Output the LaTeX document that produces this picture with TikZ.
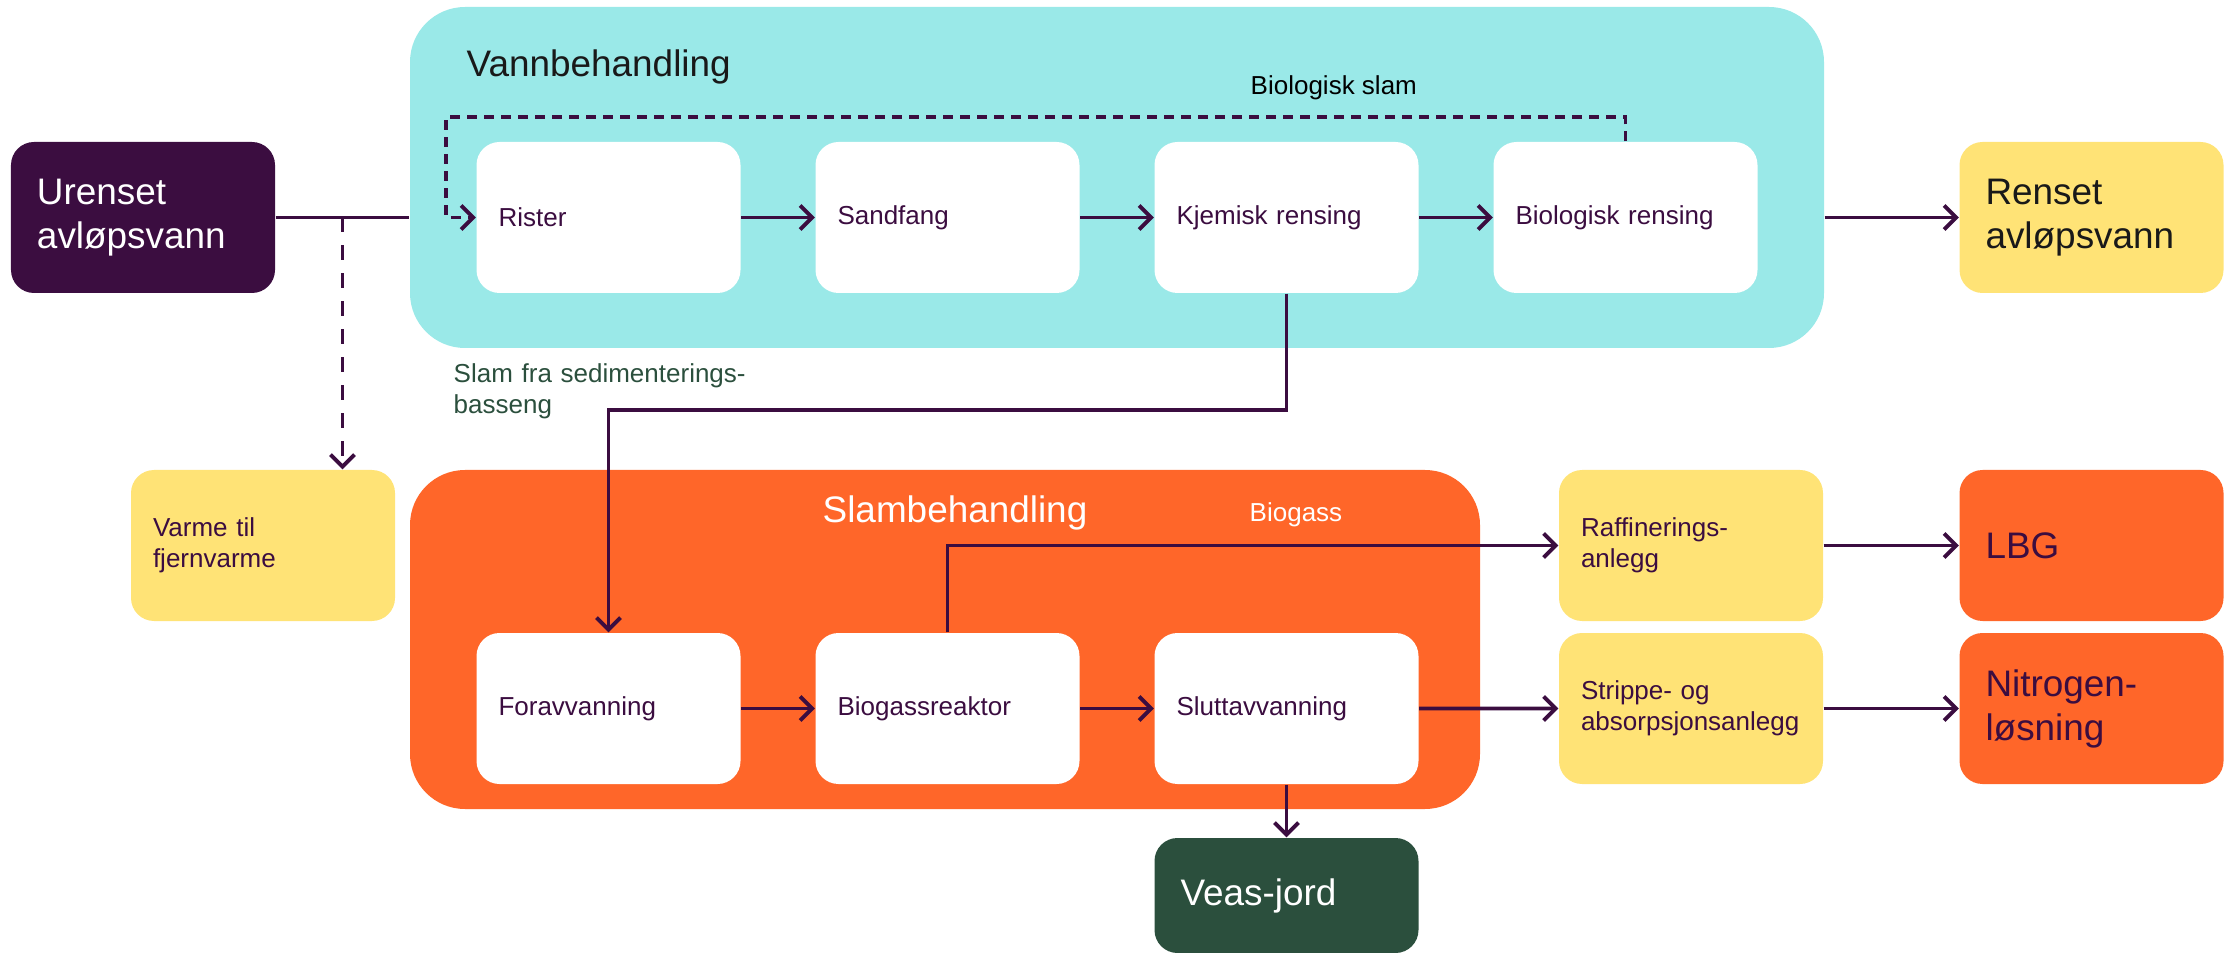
\documentclass[tikz,border=0pt]{standalone}
\usepackage{fontspec}
\setmainfont{Liberation Sans}
\usetikzlibrary{arrows.meta, positioning, calc}
\definecolor{veaspurple}{HTML}{3B0D40}
\definecolor{veascyan}{HTML}{9AE9E8}
\definecolor{veasorange}{HTML}{FF6629}
\definecolor{veasyellow}{HTML}{FFE376}
\definecolor{veasgreen}{HTML}{2B4F3D}
\newcommand{\smalltxt}{\fontsize{7.4pt}{8.8pt}\selectfont}
\newcommand{\largetxt}{\fontsize{10.5pt}{12.5pt}\selectfont}
\hyphenpenalty=10000
\tikzstyle{zone} = [rectangle, rounded corners=0.55cm, inner sep=0pt]
\tikzstyle{stage} = [rectangle, rounded corners=0.23cm, minimum width=2.64cm, minimum height=1.51cm, text width=2.2cm, inner xsep=0.22cm, align=left, fill=white, text=veaspurple, font=\smalltxt]
\tikzstyle{sidebox} = [stage, fill=veasyellow]
\tikzstyle{terminal} = [stage, text width=2.12cm, inner xsep=0.26cm, font=\largetxt]
\tikzstyle{tag} = [inner sep=0pt, anchor=base west, font=\smalltxt]
\tikzstyle{link} = [line width=1.1pt, veaspurple]
\tikzstyle{arrow} = [link, ->, >={Straight Barb[length=0.12cm, width=0.24cm]}]
\tikzstyle{dasharrow} = [arrow, dash pattern=on 0.1cm off 0.07cm]
\tikzstyle{longdash} = [arrow, dash pattern=on 0.15cm off 0.13cm]

\begin{document}
\begin{tikzpicture}[node distance=3.39cm]
    \useasboundingbox (0,0) rectangle (22.34,-9.53);
    % vannbehandling
    \node (vann) [zone, fill=veascyan, minimum width=14.14cm, minimum height=3.41cm] at (11.17,-1.775) {};
    \node (vanntitle) [tag, font=\largetxt, text=black!90] at (4.66,-0.77) {Vannbehandling};
    \node (rister) [stage] at (6.085,-2.175) {Rister};
    \node (sandfang) [stage, right of=rister] {Sandfang};
    \node (kjemisk) [stage, right of=sandfang] {Kjemisk rensing};
    \node (biorens) [stage, right of=kjemisk] {Biologisk rensing};
    \node (urenset) [terminal, fill=veaspurple, text=white] at (1.43,-2.175) {Urenset\\avløpsvann};
    \node (renset) [terminal, fill=veasyellow, text=black!90] at (20.915,-2.175) {Renset\\avløpsvann};

    % slambehandling
    \node (slam) [zone, fill=veasorange, minimum width=10.70cm, minimum height=3.39cm] at (9.45,-6.395) {};
    \node (slamtitle) [tag, anchor=base, font=\largetxt, text=white] at (9.55,-5.23) {Slambehandling};
    \node (forav) [stage] at (6.085,-7.085) {Foravvanning};
    \node (biogass) [stage, right of=forav] {Biogassreaktor};
    \node (slutt) [stage, right of=biogass] {Sluttavvanning};
    \node (veas) [terminal, fill=veasgreen, text=white, minimum height=1.15cm, below of=slutt, node distance=1.87cm] {Veas-jord};

    \node (varme) [sidebox] at (2.63,-5.455) {Varme til\\fjernvarme};
    \node (raff) [sidebox] at (16.91,-5.455) {Raffinerings-\\anlegg};
    \node (strippe) [sidebox, below of=raff, node distance=1.63cm] {Strippe- og\\absorpsjonsanlegg};
    \node (lbg) [terminal, fill=veasorange, right of=raff, node distance=4.005cm] {LBG};
    \node (nitrogen) [terminal, fill=veasorange, right of=strippe, node distance=4.005cm] {Nitrogen-\\løsning};

    % water flow
    \coordinate (split) at ($(urenset.east)!0.5!(urenset.east -| vann.west)$);
    \draw [link] (urenset) -- (urenset -| vann.west);
    \draw [longdash] (split) -- (split |- varme.north);
    \draw [arrow] (rister) -- (sandfang);
    \draw [arrow] (sandfang) -- (kjemisk);
    \draw [arrow] (kjemisk) -- (biorens);
    \draw [arrow] (vann.east |- biorens) -- (renset);
    \coordinate (returncorner) at (4.46,-1.17);
    \draw [dasharrow] (biorens.north) |- (returncorner) |- (rister.west);
    \node (bioslam) [tag] at (12.50,-0.95) {Biologisk slam};

    % sludge flow
    \draw [arrow] (kjemisk.south) -- ++(0,-1.16) -| (forav.north);
    \node (sediment) [tag, text width=3.4cm, align=left, text=veasgreen] at (4.53,-3.83) {Slam fra sedimenterings-\\basseng};
    \draw [arrow] (forav) -- (biogass);
    \draw [arrow] (biogass) -- (slutt);
    \draw [arrow] (biogass.north) |- (raff.west);
    \node (gaslabel) [tag, text=white] at (12.49,-5.22) {Biogass};
    \draw [arrow] (slutt) -- (strippe);
    \draw [arrow] (slutt) -- (veas);
    \draw [arrow] (raff) -- (lbg);
    \draw [arrow] (strippe) -- (nitrogen);
\end{tikzpicture}
\end{document}
